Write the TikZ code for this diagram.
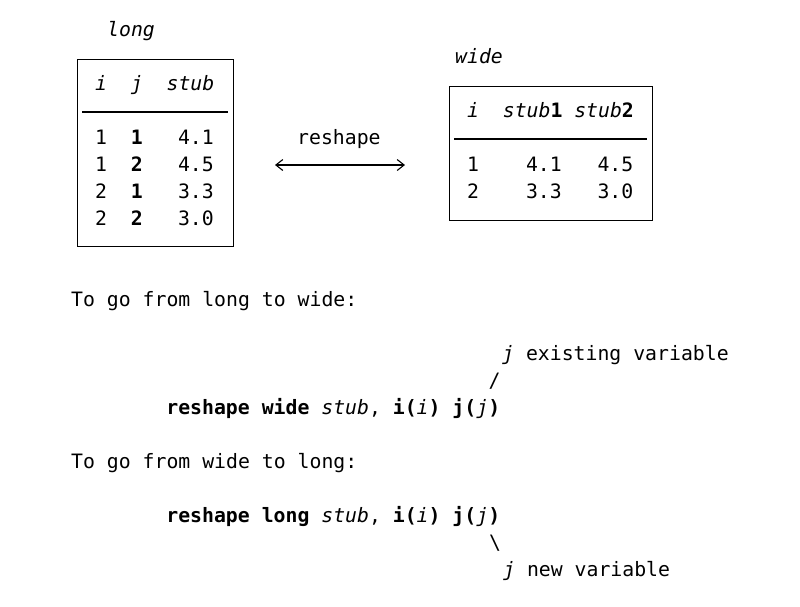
\documentclass[tikz,border=0pt]{standalone}
\usepackage{fontspec}
\setmonofont{DejaVu Sans Mono}
\usepackage{tikz}
\usetikzlibrary{arrows.meta}
\tikzset{
  txt/.style={anchor=base west, inner sep=0pt, font=\fontsize{19.8}{27}\selectfont\ttfamily},
  rtxt/.style={txt, anchor=base east},
  tbox/.style={draw, line width=1pt},
  trule/.style={line width=1.2pt}
}

\begin{document}
\begin{tikzpicture}[x=1pt, y=-1pt]
\useasboundingbox (0,0) rectangle (800,606);
% long table
\node[txt] (longlbl) at (107,36) {\textit{long}};
\draw[tbox] (77,59) rectangle (233,246);
\node[txt] (lhi) at (95,90) {\textit{i}};
\node[txt] (lhj) at (130.7,90) {\textit{j}};
\node[txt] (lhs) at (166.4,90) {\textit{stub}};
\draw[trule] (82,112) -- (228,112);
\foreach \a/\b/\v [count=\k] in {1/1/4.1, 1/2/4.5, 2/1/3.3, 2/2/3.0}{
  \node[txt] (li\k) at (95,117+27*\k) {\a};
  \node[txt] (lj\k) at (130.7,117+27*\k) {\textbf{\b}};
  \node[rtxt] (lv\k) at (214,117+27*\k) {\v};
}
% wide table
\node[txt] (widelbl) at (455,63) {\textit{wide}};
\draw[tbox] (449,86) rectangle (652,220);
\node[txt] (whi) at (467,117) {\textit{i}};
\node[txt] (whs1) at (502.7,117) {\textit{stub}\textbf{1}};
\node[txt] (whs2) at (574.1,117) {\textit{stub}\textbf{2}};
\draw[trule] (454,139) -- (647,139);
\foreach \a/\v/\w [count=\k] in {1/4.1/4.5, 2/3.3/3.0}{
  \node[txt] (wi\k) at (467,144+27*\k) {\a};
  \node[rtxt] (wv\k) at (562,144+27*\k) {\v};
  \node[rtxt] (ww\k) at (633.5,144+27*\k) {\w};
}
% arrow between them
\node[txt] (reshape) at (297,144) {reshape};
\coordinate (arrl) at (275,165);
\coordinate (arrr) at (405,165);
\draw[{Straight Barb[length=7pt,width=11pt]}-{Straight Barb[length=7pt,width=11pt]}, line width=1.1pt] (arrl) -- (arrr);
% syntax
\node[txt] (towide) at (71,306) {To go from long to wide:};
\node[txt] (exist) at (502,360) {\textit{j} existing variable};
\node[txt] (slash) at (488.5,387) {/};
\node[txt] (cmdwide) at (166.2,414) {\textbf{reshape wide} \textit{stub}, \textbf{i(}\textit{i}\textbf{)} \textbf{j(}\textit{j}\textbf{)}};
\node[txt] (tolong) at (71,468) {To go from wide to long:};
\node[txt] (cmdlong) at (166.2,522) {\textbf{reshape long} \textit{stub}, \textbf{i(}\textit{i}\textbf{)} \textbf{j(}\textit{j}\textbf{)}};
\node[txt] (bslash) at (489,549) {\textbackslash};
\node[txt] (newvar) at (503,576) {\textit{j} new variable};
\end{tikzpicture}
\end{document}
